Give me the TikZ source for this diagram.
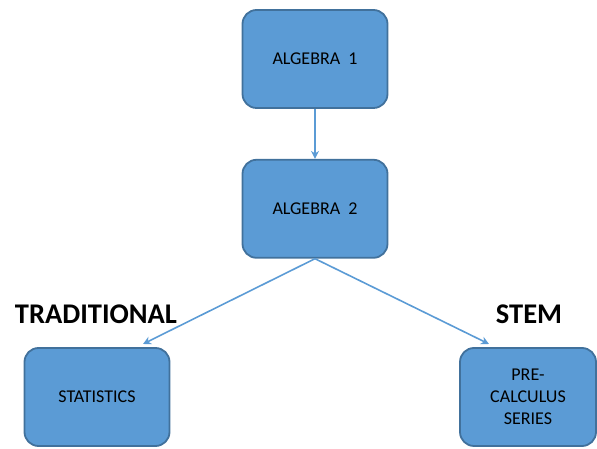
\documentclass[tikz,border=0pt]{standalone}
\usepackage{fontspec}
\setmainfont{Carlito}
\usetikzlibrary{positioning,arrows.meta}

\definecolor{boxfill}{HTML}{5B9BD5}
\definecolor{boxline}{HTML}{41719C}

\begin{document}
\begin{tikzpicture}[x=1pt,y=1pt,
  course/.style={draw=boxline,fill=boxfill,line width=1.8pt,rounded corners=14pt,align=center,minimum width=145pt,minimum height=98pt,inner sep=2pt,font=\fontsize{18}{22}\selectfont},
  track/.style={font=\fontsize{28.5}{32}\selectfont\bfseries},
  arr/.style={-{Stealth[length=8pt,width=8pt]},draw=boxfill,line width=1.6pt}
]
\useasboundingbox (0,0) rectangle (597,449);
\node[course] (alg1) at (315,390) {ALGEBRA\ \ 1};
\node[course,below=50pt of alg1] (alg2) {ALGEBRA\ \ 2};
\node[course] (stats) at (97,52) {STATISTICS};
\node[course,minimum width=136pt] (precalc) at (528,52) {PRE-\\CALCULUS\\SERIES};
\node[track] (trad) at (96,135) {TRADITIONAL};
\node[track] (stem) at (529,135) {STEM};
\coordinate (tradend) at (143,105);
\coordinate (stemend) at (489,105);
\draw[arr] (alg1) -- (alg2);
\draw[arr] (alg2.south) -- (tradend);
\draw[arr] (alg2.south) -- (stemend);
\end{tikzpicture}
\end{document}
